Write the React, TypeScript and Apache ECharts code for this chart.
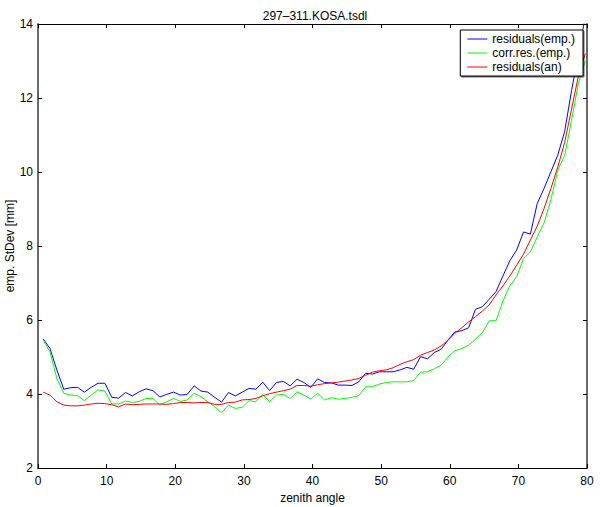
import React, { useEffect, useRef } from "react";
import * as echarts from "echarts";

const titleText = "297–311.KOSA.tsdl";
const xName = "zenith angle";
const yName = "emp. StDev [mm]";
const seriesNames = ["residuals(emp.)", "corr.res.(emp.)", "residuals(an)"];
const xStart = 0.75;

const empRes = [
  5.49, 5.23, 4.65, 4.13, 4.17, 4.18, 4.05, 4.18, 4.29, 4.29,
  3.91, 3.89, 4.04, 3.95, 4.06, 4.14, 4.09, 3.92, 3.99, 4.05,
  3.97, 3.99, 4.22, 4.08, 4.05, 3.91, 3.78, 4.04, 3.95, 4.05,
  4.15, 4.13, 4.32, 4.09, 4.31, 4.34, 4.22, 4.40, 4.31, 4.18,
  4.41, 4.31, 4.30, 4.24, 4.24, 4.23, 4.33, 4.56, 4.54, 4.60,
  4.60, 4.60, 4.65, 4.72, 4.67, 5.01, 4.95, 5.12, 5.21, 5.46,
  5.68, 5.71, 5.79, 6.29, 6.36, 6.56, 6.77, 7.19, 7.60, 7.89,
  8.38, 8.32, 9.15, 9.56, 10.01, 10.46, 11.1, 12.2, 13.2, 14.2,
];

const corrRes = [
  5.46, 5.14, 4.42, 4.02, 3.97, 3.96, 3.82, 3.97, 4.11, 4.08,
  3.73, 3.73, 3.81, 3.77, 3.80, 3.88, 3.88, 3.70, 3.79, 3.88,
  3.80, 3.84, 4.02, 3.93, 3.79, 3.66, 3.49, 3.70, 3.61, 3.64,
  3.82, 3.79, 3.99, 3.79, 3.97, 3.99, 3.88, 4.06, 3.97, 3.86,
  4.02, 3.84, 3.90, 3.86, 3.88, 3.91, 3.96, 4.19, 4.20, 4.27,
  4.31, 4.33, 4.33, 4.33, 4.36, 4.59, 4.60, 4.68, 4.78, 5.00,
  5.17, 5.23, 5.32, 5.48, 5.66, 5.98, 5.98, 6.51, 6.92, 7.17,
  7.66, 7.84, 8.25, 8.63, 9.26, 10.05, 10.45, 11.4, 12.4, 13.0,
];

const anRes = [
  4.05, 3.97, 3.79, 3.70, 3.68, 3.68, 3.70, 3.73, 3.75, 3.74,
  3.71, 3.65, 3.73, 3.71, 3.72, 3.73, 3.73, 3.73, 3.72, 3.74,
  3.77, 3.77, 3.76, 3.77, 3.77, 3.72, 3.72, 3.77, 3.78, 3.84,
  3.85, 3.88, 3.95, 4.01, 4.05, 4.09, 4.13, 4.23, 4.23, 4.21,
  4.25, 4.28, 4.30, 4.32, 4.35, 4.38, 4.42, 4.51, 4.59, 4.63,
  4.65, 4.71, 4.80, 4.87, 4.93, 5.05, 5.12, 5.19, 5.30, 5.45,
  5.64, 5.79, 5.95, 6.09, 6.24, 6.41, 6.68, 6.92, 7.19, 7.48,
  7.78, 8.16, 8.54, 9.02, 9.56, 10.14, 10.8, 11.7, 12.6, 13.2,
];

const colors = ["#0000ff", "#00ff00", "#ff0000"];
const FONT = "'Liberation Sans', Arial, Helvetica, sans-serif";

function toPairs(vals: number[]) {
  return vals.map((v, i) => [xStart + i, v]);
}

export default function App() {
  const ref = useRef<HTMLDivElement>(null);
  useEffect(() => {
    if (!ref.current) return;
    const chart = echarts.init(ref.current, undefined, { renderer: "svg" });
    const xBase = {
      type: "value" as const,
      min: 0,
      max: 80,
      interval: 10,
      splitLine: { show: false },
      axisTick: { inside: true, length: 4, lineStyle: { color: "#000", width: 1 } },
      axisLine: { onZero: false, lineStyle: { color: "#000", width: 1 } },
    };
    const yBase = {
      type: "value" as const,
      min: 2,
      max: 14,
      interval: 2,
      splitLine: { show: false },
      axisTick: { inside: true, length: 4, lineStyle: { color: "#000", width: 1 } },
      axisLine: { onZero: false, lineStyle: { color: "#6a6a6a", width: 2 } },
    };
    chart.setOption({
      animation: false,
      backgroundColor: "#ffffff",
      title: {
        text: titleText,
        left: 310,
        textAlign: "center",
        top: 5,
        textStyle: { fontFamily: FONT, fontSize: 12, fontWeight: "normal", color: "#000" },
      },
      grid: {
        left: 38,
        right: 13,
        top: 24,
        bottom: 39,
        containLabel: false,
        outerBoundsMode: "none",
      },
      legend: {
        orient: "vertical",
        right: 17,
        top: 30,
        backgroundColor: "#ffffff",
        borderColor: "#000",
        borderWidth: 1,
        padding: [2, 8, 2, 7],
        itemGap: 0,
        itemWidth: 20,
        itemHeight: 1,
        itemTextGap: 8,
        icon: "rect",
        shadowColor: "rgba(0,0,0,0.6)",
        shadowOffsetX: 1,
        shadowOffsetY: 1,
        shadowBlur: 0,
        textStyle: { fontFamily: FONT, fontSize: 12, color: "#000", lineHeight: 14 },
        data: seriesNames,
      },
      xAxis: [
        {
          ...xBase,
          position: "bottom",
          name: xName,
          nameLocation: "middle",
          nameGap: 24,
          nameTextStyle: { fontFamily: FONT, fontSize: 12, color: "#000" },
          axisLabel: { fontFamily: FONT, fontSize: 12, color: "#000", margin: 7 },
        },
        {
          ...xBase,
          position: "top",
          axisLabel: { show: false },
        },
      ],
      yAxis: [
        {
          ...yBase,
          position: "left",
          name: yName,
          nameLocation: "middle",
          nameGap: 22,
          nameMoveOverlap: false,
          nameTextStyle: { fontFamily: FONT, fontSize: 12, color: "#000" },
          axisLabel: { fontFamily: FONT, fontSize: 12, color: "#000", margin: 5 },
        },
        {
          ...yBase,
          position: "right",
          axisLabel: { show: false },
        },
      ],
      series: [
        { name: seriesNames[0], data: toPairs(empRes), color: colors[0] },
        { name: seriesNames[1], data: toPairs(corrRes), color: colors[1] },
        { name: seriesNames[2], data: toPairs(anRes), color: colors[2] },
      ].map((s) => ({
        type: "line",
        name: s.name,
        data: s.data,
        xAxisIndex: 0,
        yAxisIndex: 0,
        showSymbol: false,
        symbol: "none",
        clip: true,
        lineStyle: { color: s.color, width: 1 },
        itemStyle: { color: s.color },
      })),
    });
    return () => chart.dispose();
  }, []);
  return (
    <div
      ref={ref}
      style={{ position: "fixed", left: 0, top: 0, width: 600, height: 507, background: "#fff" }}
    />
  );
}
